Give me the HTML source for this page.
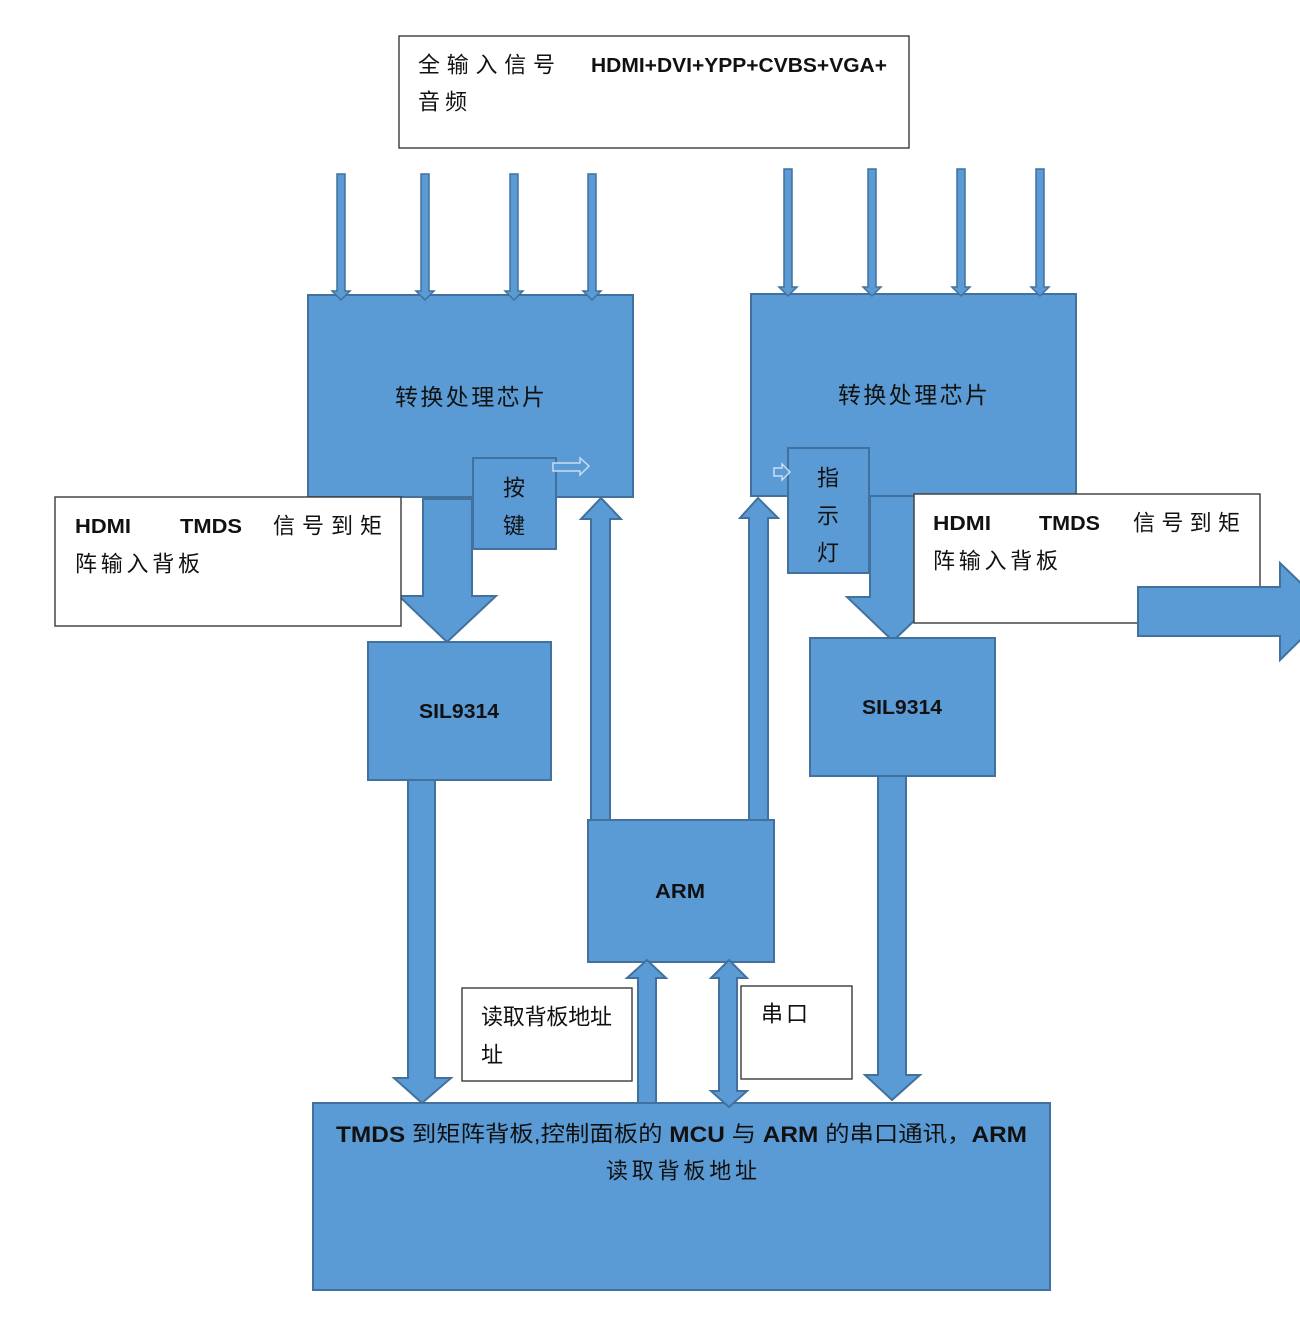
<!DOCTYPE html>
<html><head><meta charset="utf-8">
<style>
html,body{margin:0;padding:0;background:#fff;}
svg{display:block;}
.b{fill:#5B9BD5;stroke:#41719C;stroke-width:2;}
.w{fill:#fff;stroke:#3a3a3a;stroke-width:1.4;}
.cj{font-family:"Liberation Sans","Noto Sans CJK SC",sans-serif;font-size:22px;fill:#111;}
.la{font-family:"Liberation Sans","Noto Sans CJK SC",sans-serif;font-size:20px;font-weight:bold;fill:#111;}
</style></head>
<body>
<svg width="1300" height="1334" viewBox="0 0 1300 1334" xmlns="http://www.w3.org/2000/svg">
<!-- top box -->
<rect class="w" x="399" y="36" width="510" height="112"/>
<text class="cj" x="418" y="65" dominant-baseline="central" textLength="137" lengthAdjust="spacing">全输入信号</text>
<text class="la" x="591" y="66" dominant-baseline="central" textLength="296" lengthAdjust="spacingAndGlyphs" style="font-weight:600">HDMI+DVI+YPP+CVBS+VGA+</text>
<text class="cj" x="418" y="102" dominant-baseline="central" textLength="49" lengthAdjust="spacing">音频</text>

<!-- chips -->
<rect class="b" x="308" y="295" width="325" height="202"/>
<rect class="b" x="751" y="294" width="325" height="202"/>
<text class="cj" x="395" y="397" dominant-baseline="central" textLength="150" lengthAdjust="spacing" style="font-size:23px">转换处理芯片</text>
<text class="cj" x="838" y="395" dominant-baseline="central" textLength="150" lengthAdjust="spacing" style="font-size:23px">转换处理芯片</text>

<!-- small input arrows left -->
<polygon class="b" style="stroke-width:1.5" points="337,174 345,174 345,291 350,291 341,300 332,291 337,291"/>
<polygon class="b" style="stroke-width:1.5" points="421,174 429,174 429,291 434,291 425,300 416,291 421,291"/>
<polygon class="b" style="stroke-width:1.5" points="510,174 518,174 518,291 523,291 514,300 505,291 510,291"/>
<polygon class="b" style="stroke-width:1.5" points="588,174 596,174 596,291 601,291 592,300 583,291 588,291"/>
<!-- small input arrows right -->
<polygon class="b" style="stroke-width:1.5" points="784,169 792,169 792,287 797,287 788,296 779,287 784,287"/>
<polygon class="b" style="stroke-width:1.5" points="868,169 876,169 876,287 881,287 872,296 863,287 868,287"/>
<polygon class="b" style="stroke-width:1.5" points="957,169 965,169 965,287 970,287 961,296 952,287 957,287"/>
<polygon class="b" style="stroke-width:1.5" points="1036,169 1044,169 1044,287 1049,287 1040,296 1031,287 1036,287"/>

<!-- left big down arrow -->
<polygon class="b" points="423,499 472,499 472,596 496,596 447,642 399,596 423,596"/>
<!-- right big down arrow -->
<polygon class="b" points="870,496 916,496 916,597 939,597 893,641 847,597 870,597"/>

<!-- 按键 -->
<rect class="b" x="473" y="458" width="83" height="91"/>
<polygon points="553,463 580,463 580,458 589,466 580,475 580,471 553,471" style="fill:#5B9BD5;stroke:#c9dcf0;stroke-width:1.5"/>
<text class="cj" x="514" y="488" text-anchor="middle" dominant-baseline="central">按</text>
<text class="cj" x="514" y="526" text-anchor="middle" dominant-baseline="central">键</text>

<!-- 指示灯 -->
<rect class="b" x="788" y="448" width="81" height="125"/>
<polygon points="774,468 782,468 782,464 790,472 782,480 782,476 774,476" style="fill:#5B9BD5;stroke:#c9dcf0;stroke-width:1.5"/>
<text class="cj" x="828" y="478" text-anchor="middle" dominant-baseline="central">指</text>
<text class="cj" x="828" y="516" text-anchor="middle" dominant-baseline="central">示</text>
<text class="cj" x="828" y="553" text-anchor="middle" dominant-baseline="central">灯</text>

<!-- left white label box -->
<rect class="w" x="55" y="497" width="346" height="129"/>
<text class="la" x="75" y="527" dominant-baseline="central" textLength="56" lengthAdjust="spacingAndGlyphs" style="font-weight:600">HDMI</text>
<text class="la" x="180" y="527" dominant-baseline="central" textLength="62" lengthAdjust="spacingAndGlyphs" style="font-weight:600">TMDS</text>
<text class="cj" x="273" y="526" dominant-baseline="central" textLength="109" lengthAdjust="spacing">信号到矩</text>
<text class="cj" x="75" y="564" dominant-baseline="central" textLength="125" lengthAdjust="spacing">阵输入背板</text>

<!-- right white label box -->
<rect class="w" x="914" y="494" width="346" height="129"/>
<text class="la" x="933" y="524" dominant-baseline="central" textLength="58" lengthAdjust="spacingAndGlyphs" style="font-weight:600">HDMI</text>
<text class="la" x="1039" y="524" dominant-baseline="central" textLength="61" lengthAdjust="spacingAndGlyphs" style="font-weight:600">TMDS</text>
<text class="cj" x="1133" y="523" dominant-baseline="central" textLength="107" lengthAdjust="spacing">信号到矩</text>
<text class="cj" x="933" y="561" dominant-baseline="central" textLength="125" lengthAdjust="spacing">阵输入背板</text>

<!-- right big arrow -->
<polygon class="b" points="1138,587 1280,587 1280,563 1330,611 1280,660 1280,636 1138,636"/>

<!-- up arrows chips <- ARM -->
<polygon class="b" points="591,821 591,519 581,519 601,498 621,519 610,519 610,821"/>
<polygon class="b" points="749,821 749,518 740,518 758,498 778,518 768,518 768,821"/>

<!-- SIL9314 -->
<rect class="b" x="368" y="642" width="183" height="138"/>
<text class="la" x="459" y="712" text-anchor="middle" dominant-baseline="central" textLength="80" lengthAdjust="spacingAndGlyphs" style="font-weight:600">SIL9314</text>
<rect class="b" x="810" y="638" width="185" height="138"/>
<text class="la" x="902" y="708" text-anchor="middle" dominant-baseline="central" textLength="80" lengthAdjust="spacingAndGlyphs" style="font-weight:600">SIL9314</text>

<!-- ARM -->
<rect class="b" x="588" y="820" width="186" height="142"/>
<text class="la" x="680" y="892" text-anchor="middle" dominant-baseline="central" textLength="50" lengthAdjust="spacingAndGlyphs" style="font-weight:600">ARM</text>

<!-- bottom box -->
<rect class="b" x="313" y="1103" width="737" height="187"/>
<text x="336" y="1134" dominant-baseline="central" textLength="691" lengthAdjust="spacingAndGlyphs" style="font-family:'Liberation Sans','Noto Sans CJK SC',sans-serif;font-size:22px;fill:#111"><tspan style="font-weight:600">TMDS</tspan> 到矩阵背板,控制面板的 <tspan style="font-weight:600">MCU</tspan> 与 <tspan style="font-weight:600">ARM</tspan> 的串口通讯，<tspan style="font-weight:600">ARM</tspan></text>
<text class="cj" x="606" y="1171" dominant-baseline="central" textLength="151" lengthAdjust="spacing">读取背板地址</text>

<!-- long down arrows from SIL -->
<polygon class="b" points="408,780 435,780 435,1078 451,1078 422,1103 394,1078 408,1078"/>
<polygon class="b" points="878,776 906,776 906,1075 920,1075 892,1100 865,1075 878,1075"/>

<!-- up arrow bottom -> ARM -->
<polygon class="b" points="638,1103 638,978 627,978 647,960 666,978 656,978 656,1103"/>
<!-- double arrow -->
<polygon class="b" points="729,960 747,978 737,978 737,1091 747,1091 729,1107 711,1091 719,1091 719,978 711,978"/>

<!-- label boxes -->
<rect class="w" x="462" y="988" width="170" height="93"/>
<text class="cj" x="481" y="1017" dominant-baseline="central" textLength="131" lengthAdjust="spacing">读取背板地址</text>
<text class="cj" x="481" y="1055" dominant-baseline="central">址</text>
<rect class="w" x="741" y="986" width="111" height="93"/>
<text class="cj" x="761" y="1014" dominant-baseline="central" textLength="47" lengthAdjust="spacing">串口</text>
</svg>
</body></html>
